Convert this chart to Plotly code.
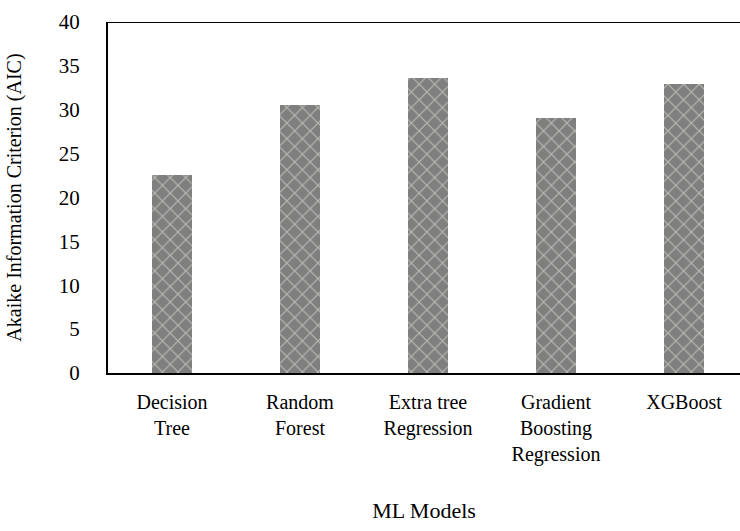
import plotly.graph_objects as go

# Model names (line breaks follow the axis labels) and their AIC scores
models = ["Decision<br>Tree", "Random<br>Forest", "Extra tree<br>Regression",
          "Gradient<br>Boosting<br>Regression", "XGBoost"]
aic = [22.6, 30.5, 33.6, 29.1, 32.9]
y_ticks = [0, 5, 10, 15, 20, 25, 30, 35, 40]

FONT = "Liberation Serif"

fig = go.Figure(
    go.Bar(
        x=list(range(len(models))),
        y=aic,
        width=0.31,
        marker=dict(
            color="#7f7f7f",
            line=dict(width=0),
            pattern=dict(shape="x", fgcolor="#f4f2e6", bgcolor="#7f7f7f",
                         size=11, solidity=0.2),
        ),
        hovertemplate="%{y}<extra></extra>",
    )
)

fig.update_layout(
    width=740,
    height=531,
    margin=dict(l=108, r=0, t=22, b=158),
    paper_bgcolor="white",
    plot_bgcolor="white",
    font=dict(family=FONT, size=21, color="black"),
    showlegend=False,
    bargap=0,
)

fig.update_xaxes(
    tickmode="array",
    tickvals=list(range(len(models))),
    ticktext=models,
    range=[-0.5, 4.4375],
    showline=True,
    linecolor="black",
    linewidth=2,
    showgrid=False,
    ticks="",
    tickangle=0,
    tickfont=dict(family=FONT, size=20),
    ticklabelstandoff=10,
    title=dict(text="ML Models", standoff=38, font=dict(family=FONT, size=22)),
    automargin=False,
)

fig.update_yaxes(
    range=[0, 40],
    tickvals=y_ticks,
    showline=True,
    linecolor="black",
    linewidth=2,
    showgrid=False,
    zeroline=False,
    ticks="",
    tickfont=dict(family=FONT, size=21),
    ticklabelstandoff=22,
    title=dict(text="Akaike Information Criterion (AIC)", standoff=32,
               font=dict(family=FONT, size=20)),
    automargin=False,
)

# Top border of the plot frame
fig.add_shape(type="line", xref="paper", yref="y", x0=0, x1=1, y0=40, y1=40,
              line=dict(color="black", width=2))

fig.write_html("out.html")
